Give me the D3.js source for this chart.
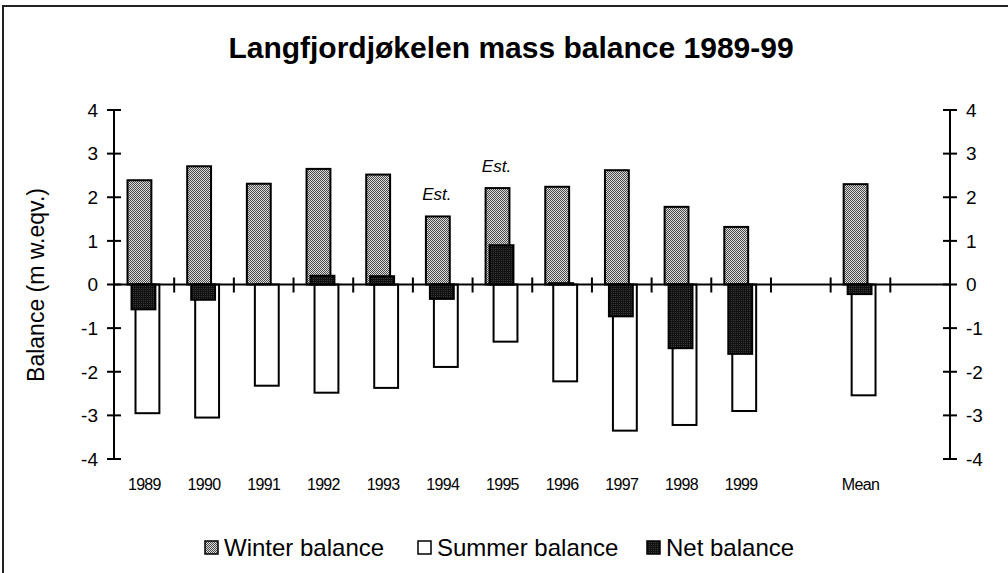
<!DOCTYPE html>
<html>
<head>
<meta charset="utf-8">
<script src="https://cdn.jsdelivr.net/npm/d3@7"></script>
<style>
  html, body { margin: 0; padding: 0; background: #fff; }
  svg { display: block; }
  text { font-family: "Liberation Sans", Arial, sans-serif; fill: #000; }
</style>
</head>
<body>
<svg id="chart" width="1008" height="573"></svg>
<script>
// Langfjordjøkelen mass balance, 1989–1999, metres water equivalent
const categories = ["1989","1990","1991","1992","1993","1994","1995","1996","1997","1998","1999","","Mean",""];
const years      = ["1989","1990","1991","1992","1993","1994","1995","1996","1997","1998","1999","Mean"];
const winterBalance = [2.39, 2.71, 2.31, 2.65, 2.52, 1.56, 2.21, 2.24, 2.62, 1.78, 1.32, 2.30];
const summerBalance = [-2.95, -3.05, -2.32, -2.48, -2.37, -1.89, -1.31, -2.22, -3.35, -3.22, -2.90, -2.54];
const netBalance    = [-0.57, -0.35, 0.00, 0.20, 0.19, -0.33, 0.90, 0.03, -0.73, -1.46, -1.59, -0.22];
const estimated     = ["1994", "1995"];
const yTicks = [-4, -3, -2, -1, 0, 1, 2, 3, 4];
const seriesNames = ["Winter balance", "Summer balance", "Net balance"];

const svg = d3.select("#chart");

// fill patterns: dotted grey for winter, dark dither for net
const defs = svg.append("defs");
const pw = defs.append("pattern").attr("id", "winterFill")
  .attr("patternUnits", "userSpaceOnUse").attr("width", 2).attr("height", 2);
pw.append("rect").attr("width", 2).attr("height", 2).attr("fill", "#dcdcdc");
pw.append("rect").attr("x", 0).attr("y", 0).attr("width", 1).attr("height", 1).attr("fill", "#4a4a4a");
pw.append("rect").attr("x", 1).attr("y", 1).attr("width", 1).attr("height", 1).attr("fill", "#4a4a4a");
const pn = defs.append("pattern").attr("id", "netFill")
  .attr("patternUnits", "userSpaceOnUse").attr("width", 2).attr("height", 2);
pn.append("rect").attr("width", 2).attr("height", 2).attr("fill", "#111");
pn.append("rect").attr("x", 1).attr("y", 0).attr("width", 1).attr("height", 1).attr("fill", "#3a3a3a");

// outer frame
svg.append("rect").attr("x", 3).attr("y", 6).attr("width", 1020).attr("height", 620)
  .attr("fill", "none").attr("stroke", "#222").attr("stroke-width", 2);

// title
svg.append("text").attr("x", 511).attr("y", 58).attr("text-anchor", "middle")
  .attr("font-size", 30).attr("font-weight", "bold")
  .text("Langfjordjøkelen mass balance 1989-99");

// scales
const x = d3.scaleBand().domain(d3.range(categories.length)).range([114.5, 950]).padding(0);
const y = d3.scaleLinear().domain([-4, 4]).range([459, 110]);
const step = x.step();
const barW = step * 0.40;
const offW = step * 0.218, offN = step * 0.285, offS = step * 0.352;

const idx = d => categories.indexOf(d);

// bars: winter, summer, then net drawn on top
const g = svg.append("g");
function bars(values, off, fill, cls) {
  g.selectAll("rect." + cls).data(values).join("rect")
    .attr("class", cls)
    .attr("x", (v, i) => x(idx(years[i])) + off)
    .attr("y", v => y(Math.max(0, v)))
    .attr("width", barW)
    .attr("height", v => Math.abs(y(v) - y(0)))
    .attr("fill", fill)
    .attr("stroke", "#000").attr("stroke-width", 2);
}
bars(winterBalance, offW, "url(#winterFill)", "winter");
bars(summerBalance, offS, "#fff", "summer");
bars(netBalance, offN, "url(#netFill)", "net");

// "Est." markers above estimated winter bars
years.forEach((yr, i) => {
  if (!estimated.includes(yr)) return;
  svg.append("text")
    .attr("x", x(idx(yr)) + offW + barW / 2 - 1)
    .attr("y", y(winterBalance[i]) - 16)
    .attr("text-anchor", "middle").attr("font-size", 17).attr("font-style", "italic")
    .text("Est.");
});

// zero axis with cross ticks at category boundaries
svg.append("line").attr("x1", 114).attr("x2", 950).attr("y1", y(0)).attr("y2", y(0))
  .attr("stroke", "#000").attr("stroke-width", 2);
d3.range(1, categories.length).forEach(k => {
  const bx = x(k);
  svg.append("line").attr("x1", bx).attr("x2", bx).attr("y1", y(0) - 7).attr("y2", y(0) + 8)
    .attr("stroke", "#000").attr("stroke-width", 2);
});

// category labels
categories.forEach((c, k) => {
  if (!c) return;
  svg.append("text").attr("x", x(k) + step / 2).attr("y", 490)
    .attr("text-anchor", "middle").attr("font-size", 16).attr("letter-spacing", -0.7)
    .text(c);
});

// left and right value axes with cross ticks
function valueAxis(ax, side) {
  const gA = svg.append("g");
  gA.append("line").attr("x1", ax).attr("x2", ax).attr("y1", y(4)).attr("y2", y(-4))
    .attr("stroke", "#000").attr("stroke-width", 2);
  yTicks.forEach(t => {
    gA.append("line").attr("x1", ax - 7).attr("x2", ax + 7).attr("y1", y(t)).attr("y2", y(t))
      .attr("stroke", "#000").attr("stroke-width", 2);
    gA.append("text")
      .attr("x", side === "left" ? ax - 16 : ax + 16)
      .attr("y", y(t)).attr("dy", "0.36em")
      .attr("text-anchor", side === "left" ? "end" : "start")
      .attr("font-size", 19).text(t);
  });
}
valueAxis(114, "left");
valueAxis(950, "right");

// y axis title
svg.append("text").attr("transform", "translate(44,285) rotate(-90)")
  .attr("text-anchor", "middle").attr("font-size", 23)
  .text("Balance (m w.eqv.)");

// legend
const legendItems = [
  { name: seriesNames[0], fill: "url(#winterFill)", x: 205 },
  { name: seriesNames[1], fill: "#fff", x: 418 },
  { name: seriesNames[2], fill: "url(#netFill)", x: 647 }
];
legendItems.forEach(it => {
  svg.append("rect").attr("x", it.x).attr("y", 541).attr("width", 13).attr("height", 13)
    .attr("fill", it.fill).attr("stroke", "#000").attr("stroke-width", 1.5);
  svg.append("text").attr("x", it.x + 19).attr("y", 556).attr("font-size", 24)
    .text(it.name);
});
</script>
</body>
</html>
